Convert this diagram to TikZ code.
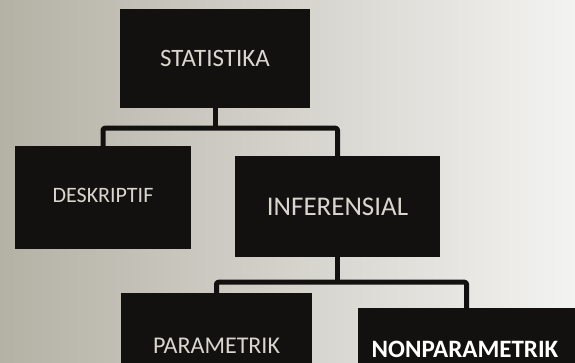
\documentclass[tikz,border=0pt]{standalone}
\usepackage{fontspec}
\setmainfont{Carlito}
\begin{document}
\begin{tikzpicture}[x=1pt,y=-1pt,
  box/.style={draw=none, fill=boxblack, rectangle, inner sep=0pt,
    text=boxtext},
  lbl/.style={inner sep=0pt, text=boxtext},
  fs/.style={font=\fontsize{#1}{#1}\selectfont},
  conn/.style={draw=boxblack, line width=5pt, rounded corners=2pt,
    line join=round}]
  \definecolor{boxblack}{HTML}{121110}
  \definecolor{boxtext}{HTML}{D8D6CE}
  \definecolor{paperleft}{HTML}{B4B1A5}
  \definecolor{papermid}{HTML}{D3D1C9}
  \definecolor{paperright}{HTML}{F3F3F1}
  \useasboundingbox (0,0) rectangle (575,363);
  \clip (0,0) rectangle (575,363);
  % paper background, brighter toward the right
  \shade[left color=paperleft, middle color=papermid, right color=paperright]
    (0,0) rectangle (575,363);

  % upper boxes
  \node[box, fs=25, minimum width=190pt, minimum height=99pt] (stat) at (215,58.5) {STATISTIKA};
  \node[box, fs=22, minimum width=176pt, minimum height=103pt,
    text depth=0pt] (desk) at (103,197.5) {\raisebox{5pt}{DESKRIPTIF}};
  \node[box, fs=27, minimum width=205pt, minimum height=101pt] (inf) at (337.5,206.5) {INFERENSIAL};

  % bottom boxes run off the lower edge; their labels sit low inside them
  \node[box, minimum width=191pt, minimum height=70pt] (parbox) at (216.5,328) {};
  \node[box, minimum width=217pt, minimum height=55pt] (nonbox) at (466.5,335.5) {};
  \node[lbl, fs=24] (par) at (216.5,346) {PARAMETRIK};
  \node[lbl, text=white, font=\fontsize{25}{26}\selectfont\bfseries]
    (non) at (465,349) {NONPARAMETRIK};

  % tree connectors
  \draw[conn] (stat.south) -- ++(0,20) coordinate (j1);
  \draw[conn] (desk.north) |- (j1) -| (inf.north);
  \draw[conn] (inf.south) -- ++(0,25) coordinate (j2);
  \draw[conn] (parbox.north) |- (j2) -| (nonbox.north);
\end{tikzpicture}
\end{document}
